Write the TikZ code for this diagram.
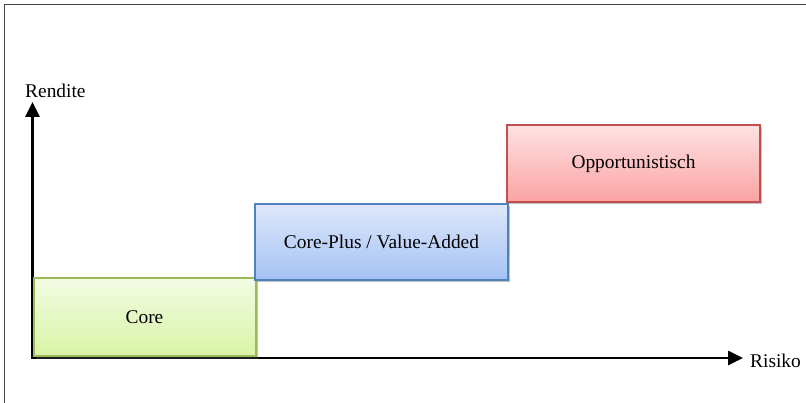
\documentclass[tikz,border=0pt]{standalone}
\usepackage{fontspec}
\setmainfont{Liberation Serif}
\usetikzlibrary{arrows.meta,shadows}

\definecolor{framegray}{HTML}{454545}
\definecolor{greenline}{HTML}{9BBB59}
\definecolor{greentop}{HTML}{F3FBE3}
\definecolor{greenbot}{HTML}{D8F4A6}
\definecolor{blueline}{HTML}{4F81BD}
\definecolor{bluetop}{HTML}{DDE8FC}
\definecolor{bluebot}{HTML}{A5C2F4}
\definecolor{redline}{HTML}{C0504D}
\definecolor{redtop}{HTML}{FEE2E2}
\definecolor{redbot}{HTML}{FBA3A3}

\tikzset{
  segment/.style={rectangle, draw, line width=2pt, inner sep=0pt, outer sep=0pt,
    font=\fontsize{19.4}{22}\selectfont,
    drop shadow={shadow xshift=2pt, shadow yshift=-2.5pt, opacity=0.35, fill=black!70}},
  coreseg/.style={segment, draw=greenline, top color=greentop, bottom color=greenbot},
  plusseg/.style={segment, draw=blueline, top color=bluetop, bottom color=bluebot},
  oppseg/.style={segment, draw=redline, top color=redtop, bottom color=redbot},
  axis/.style={line width=2.6pt, -{Triangle[length=15pt,width=14pt]}},
  axislabel/.style={font=\fontsize{19.4}{22}\selectfont, inner sep=0pt}
}

\begin{document}
\begin{tikzpicture}[x=1pt,y=-1pt]
  \useasboundingbox (0,0) rectangle (806,403);
  \fill[white] (0,0) rectangle (806,403);

  % open frame: left and top edges only
  \draw[framegray, line width=1.8pt] (4.5,403) -- (4.5,4.5) -- (806,4.5);

  % axes
  \coordinate (O) at (32.5,358);
  \coordinate (ytip) at (32.5,102);
  \coordinate (xtip) at (743,358);
  \draw[axis] (O) -- (ytip);
  \draw[axis] ([xshift=-1.3pt]O) -- (xtip);

  \node[axislabel, anchor=base west] (ylab) at (25,98) {Rendite};
  \node[axislabel, anchor=base west] (xlab) at (750,367) {Risiko};

  % strategy segments
  \node[coreseg, minimum width=222pt, minimum height=78pt] (core) at (144.5,317) {Core};
  \node[plusseg, minimum width=253pt, minimum height=76pt] (plus) at (381.5,242) {Core-Plus / Value-Added};
  \node[oppseg, minimum width=253pt, minimum height=77pt] (opp) at (633.5,163.5) {Opportunistisch};
\end{tikzpicture}
\end{document}
